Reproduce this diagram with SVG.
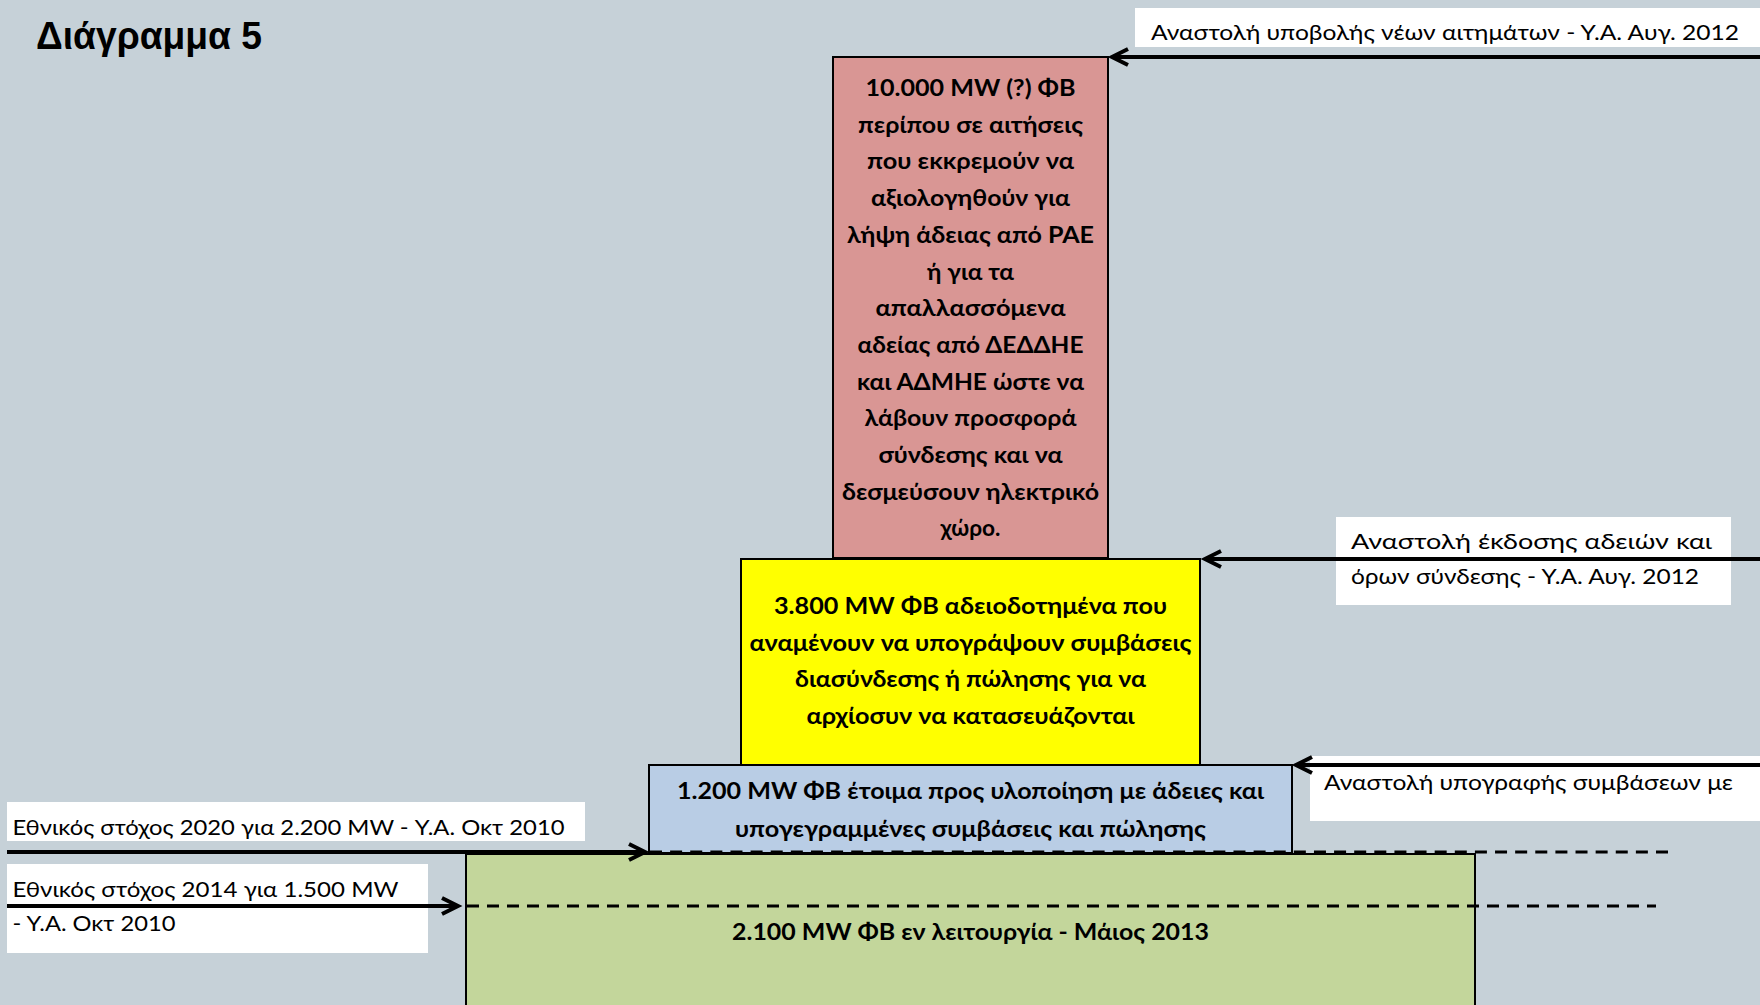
<svg xmlns="http://www.w3.org/2000/svg" width="1760" height="1005" viewBox="0 0 1760 1005">
<style>
.box{stroke:#000;stroke-width:2}
.lbl{fill:#fff}
.t{font-family:Lato,"Open Sans","Noto Sans",sans-serif;font-size:21px;fill:#000}
.b{font-family:Lato,"Open Sans","Noto Sans",sans-serif;font-size:23.5px;font-weight:700;fill:#000;text-anchor:middle}
.arr{stroke:#000;stroke-width:4;fill:none;marker-end:url(#head)}
.dash{stroke:#000;stroke-width:3;fill:none;stroke-dasharray:12 8}
</style>
<defs>
<marker id="head" markerUnits="userSpaceOnUse" viewBox="-20 -12 24 24" refX="0" refY="0" markerWidth="24" markerHeight="24" orient="auto" overflow="visible">
<path d="M-16,-8 L0,0 L-16,8" fill="none" stroke="#000" stroke-width="4" stroke-linejoin="miter"/>
</marker>
<clipPath id="c1"><rect x="1135" y="8" width="625" height="39"/></clipPath>
<clipPath id="c4"><rect x="7" y="802" width="578" height="39"/></clipPath>
</defs>
<rect width="1760" height="1005" fill="#C6D1D8"/>
<text x="36" y="48.5" font-family="'Liberation Sans',Arial,sans-serif" font-size="38" font-weight="700" textLength="226" lengthAdjust="spacingAndGlyphs">Διάγραμμα 5</text>

<g id="node-pending">
<rect class="box" x="833" y="57" width="275" height="501" fill="#D99694"/>
<text class="b" x="970.5" y="96" textLength="210" lengthAdjust="spacingAndGlyphs">10.000 MW (?) ΦΒ</text>
<text class="b" x="970.5" y="132.7" textLength="225" lengthAdjust="spacingAndGlyphs">περίπου σε αιτήσεις</text>
<text class="b" x="970.5" y="169.4" textLength="207" lengthAdjust="spacingAndGlyphs">που εκκρεμούν να</text>
<text class="b" x="970.5" y="206.1" textLength="199" lengthAdjust="spacingAndGlyphs">αξιολογηθούν για</text>
<text class="b" x="970.5" y="242.8" textLength="247" lengthAdjust="spacingAndGlyphs">λήψη άδειας από ΡΑΕ</text>
<text class="b" x="970.5" y="279.5" textLength="87" lengthAdjust="spacingAndGlyphs">ή για τα</text>
<text class="b" x="970.5" y="316.2" textLength="190" lengthAdjust="spacingAndGlyphs">απαλλασσόμενα</text>
<text class="b" x="970.5" y="352.9" textLength="226" lengthAdjust="spacingAndGlyphs">αδείας από ΔΕΔΔΗΕ</text>
<text class="b" x="970.5" y="389.6" textLength="227" lengthAdjust="spacingAndGlyphs">και ΑΔΜΗΕ ώστε να</text>
<text class="b" x="970.5" y="426.3" textLength="212" lengthAdjust="spacingAndGlyphs">λάβουν προσφορά</text>
<text class="b" x="970.5" y="463" textLength="184" lengthAdjust="spacingAndGlyphs">σύνδεσης και να</text>
<text class="b" x="970.5" y="499.7" textLength="257" lengthAdjust="spacingAndGlyphs">δεσμεύσουν ηλεκτρικό</text>
<text class="b" x="970.5" y="536.4" textLength="60" lengthAdjust="spacingAndGlyphs">χώρο.</text>
</g>

<g id="node-licensed">
<rect class="box" x="741" y="559" width="459" height="206" fill="#FFFF00"/>
<text class="b" x="970.5" y="614" textLength="393" lengthAdjust="spacingAndGlyphs">3.800 MW ΦΒ αδειοδοτημένα που</text>
<text class="b" x="970.5" y="650.7" textLength="442" lengthAdjust="spacingAndGlyphs">αναμένουν να υπογράψουν συμβάσεις</text>
<text class="b" x="970.5" y="687.4" textLength="351" lengthAdjust="spacingAndGlyphs">διασύνδεσης ή πώλησης για να</text>
<text class="b" x="970.5" y="724.1" textLength="328" lengthAdjust="spacingAndGlyphs">αρχίοσυν να κατασευάζονται</text>
</g>

<g id="node-ready">
<rect class="box" x="649" y="765" width="643" height="88" fill="#B9CDE5"/>
<text class="b" x="970.5" y="799.3" textLength="587" lengthAdjust="spacingAndGlyphs">1.200 MW ΦΒ έτοιμα προς υλοποίηση με άδειες και</text>
<text class="b" x="970.5" y="836.7" textLength="471" lengthAdjust="spacingAndGlyphs">υπογεγραμμένες συμβάσεις και πώλησης</text>
</g>

<g id="node-operating">
<rect class="box" x="466" y="854" width="1009" height="170" fill="#C3D69B"/>
<text class="b" x="970.5" y="940" textLength="477" lengthAdjust="spacingAndGlyphs">2.100 MW ΦΒ εν λειτουργία - Μάιος 2013</text>
</g>

<g id="label-applications">
<rect class="lbl" x="1135" y="8" width="625" height="39"/>
<text class="t" x="1151" y="39.5" textLength="588" lengthAdjust="spacingAndGlyphs" clip-path="url(#c1)">Αναστολή υποβολής νέων αιτημάτων - Υ.Α. Αυγ. 2012</text>
</g>

<g id="label-licences">
<rect class="lbl" x="1336" y="517" width="395" height="88"/>
<text class="t" x="1351" y="549" textLength="361" lengthAdjust="spacingAndGlyphs">Αναστολή έκδοσης αδειών και</text>
<text class="t" x="1351" y="583.5" textLength="348" lengthAdjust="spacingAndGlyphs">όρων σύνδεσης - Υ.Α. Αυγ. 2012</text>
</g>

<g id="label-contracts">
<rect class="lbl" x="1310" y="756" width="450" height="65"/>
<text class="t" x="1324" y="789.5" textLength="409" lengthAdjust="spacingAndGlyphs">Αναστολή υπογραφής συμβάσεων με</text>
</g>

<g id="label-target2020">
<rect class="lbl" x="7" y="802" width="578" height="39"/>
<text class="t" x="12.5" y="834.5" textLength="552" lengthAdjust="spacingAndGlyphs" clip-path="url(#c4)">Εθνικός στόχος 2020 για 2.200 MW - Υ.Α. Οκτ 2010</text>
</g>

<g id="label-target2014">
<rect class="lbl" x="7" y="864" width="421" height="89"/>
<text class="t" x="12.5" y="896.5" textLength="386" lengthAdjust="spacingAndGlyphs">Εθνικός στόχος 2014 για 1.500 MW</text>
<text class="t" x="12.5" y="930.5" textLength="163" lengthAdjust="spacingAndGlyphs">- Υ.Α. Οκτ 2010</text>
</g>

<g id="connectors">
<path class="dash" d="M650,852 L1668,852" style="stroke-dasharray:12 8.12"/>
<path class="dash" d="M467,906 L1656,906"/>
<path class="arr" d="M1760,57 L1112,57"/>
<path class="arr" d="M1760,559 L1205,559"/>
<path class="arr" d="M1760,765 L1296,765"/>
<path class="arr" d="M7,852 L645,852"/>
<path class="arr" d="M7,906 L458,906"/>
</g>
</svg>
